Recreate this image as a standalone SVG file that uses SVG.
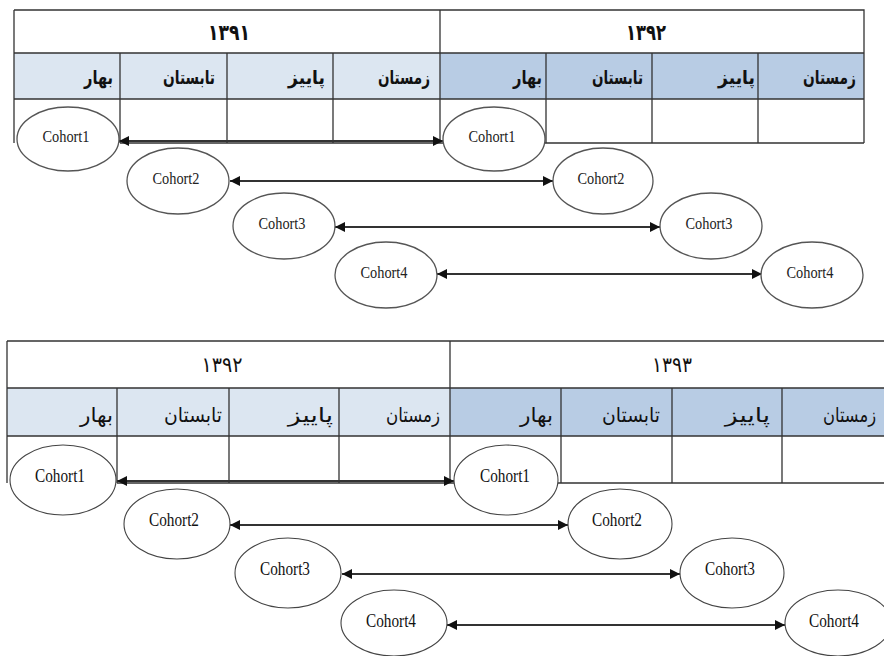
<svg xmlns="http://www.w3.org/2000/svg" width="884" height="656" viewBox="0 0 884 656">
<style>
.ln{stroke:#333;stroke-width:1.3;fill:none}
.c1{fill:#dce6f1}
.c2{fill:#b8cce4}
.yr{font-family:"DejaVu Sans",sans-serif;font-size:22px;font-weight:bold;fill:#111;text-anchor:middle}
.yr2{font-family:"DejaVu Sans",sans-serif;font-size:21px;fill:#111;text-anchor:middle}
.ss{font-family:"DejaVu Sans",sans-serif;font-size:19px;font-weight:bold;fill:#111;text-anchor:end}
.ss2{font-family:"DejaVu Sans",sans-serif;font-size:20px;fill:#111;text-anchor:end}
.el{fill:#fff;stroke:#555;stroke-width:1.3}
.el2{fill:#fff;stroke:#444;stroke-width:1.1}
.ct{font-family:"Liberation Serif",serif;font-size:17px;fill:#222;text-anchor:middle}
.ct2{font-family:"Liberation Serif",serif;font-size:18px;fill:#111;text-anchor:middle}
.ar{stroke:#333;stroke-width:2;fill:none;marker-start:url(#ah);marker-end:url(#ah)}
</style>
<defs>
<marker id="ah" viewBox="0 0 10 10" refX="10" refY="5" markerWidth="11" markerHeight="10" markerUnits="userSpaceOnUse" orient="auto-start-reverse">
<path d="M0,0 L10,5 L0,10 z" fill="#111"/>
</marker>
</defs>
<rect width="884" height="656" fill="#fff"/>

<g id="table-top">
<rect x="14" y="53" width="426" height="46" class="c1"/>
<rect x="440" y="53" width="424" height="46" class="c2"/>
<path class="ln" d="M14,10 H864 V143 M14,53 H864 M14,99 H864 M120,143 H864 M14,10 V143 M440,10 V143 M120,53 V143 M227,53 V143 M333,53 V143 M546,53 V143 M652,53 V143 M758,53 V143"/>
<text class="yr" x="229" y="40" textLength="42" lengthAdjust="spacingAndGlyphs">۱۳۹۱</text>
<text class="yr" x="646" y="40" textLength="40" lengthAdjust="spacingAndGlyphs">۱۳۹۲</text>
<text class="ss" x="113" y="84" textLength="29" lengthAdjust="spacingAndGlyphs">بهار</text>
<text class="ss" x="215" y="84" textLength="52" lengthAdjust="spacingAndGlyphs">تابستان</text>
<text class="ss" x="325" y="84" textLength="37" lengthAdjust="spacingAndGlyphs">پاییز</text>
<text class="ss" x="430" y="84" textLength="52" lengthAdjust="spacingAndGlyphs">زمستان</text>
<text class="ss" x="542" y="84" textLength="29" lengthAdjust="spacingAndGlyphs">بهار</text>
<text class="ss" x="643" y="84" textLength="51" lengthAdjust="spacingAndGlyphs">تابستان</text>
<text class="ss" x="755" y="84" textLength="37" lengthAdjust="spacingAndGlyphs">پاییز</text>
<text class="ss" x="856" y="84" textLength="53" lengthAdjust="spacingAndGlyphs">زمستان</text>
</g>

<g id="table-bottom">
<rect x="7" y="388" width="443" height="48" class="c1"/>
<rect x="450" y="388" width="440" height="48" class="c2"/>
<path class="ln" d="M7,341 H890 M7,388 H890 M7,436 H890 M117,483 H890 M7,341 V483 M450,341 V483 M117,388 V483 M229,388 V483 M339,388 V483 M561,388 V483 M672,388 V483 M782,388 V483"/>
<text class="yr2" x="222" y="372" textLength="41" lengthAdjust="spacingAndGlyphs">۱۳۹۲</text>
<text class="yr2" x="672" y="372" textLength="40" lengthAdjust="spacingAndGlyphs">۱۳۹۳</text>
<text class="ss2" x="113" y="422" textLength="33" lengthAdjust="spacingAndGlyphs">بهار</text>
<text class="ss2" x="222" y="422" textLength="58" lengthAdjust="spacingAndGlyphs">تابستان</text>
<text class="ss2" x="333" y="422" textLength="45" lengthAdjust="spacingAndGlyphs">پاییز</text>
<text class="ss2" x="440" y="422" textLength="54" lengthAdjust="spacingAndGlyphs">زمستان</text>
<text class="ss2" x="553" y="422" textLength="33" lengthAdjust="spacingAndGlyphs">بهار</text>
<text class="ss2" x="660" y="422" textLength="58" lengthAdjust="spacingAndGlyphs">تابستان</text>
<text class="ss2" x="770" y="422" textLength="45" lengthAdjust="spacingAndGlyphs">پاییز</text>
<text class="ss2" x="876" y="422" textLength="53" lengthAdjust="spacingAndGlyphs">زمستان</text>
</g>

<g id="connectors">
<line class="ar" x1="119" y1="141" x2="443" y2="141"/>
<line class="ar" x1="230" y1="181" x2="553" y2="181"/>
<line class="ar" x1="335" y1="227" x2="660" y2="227"/>
<line class="ar" x1="437" y1="274" x2="762" y2="274"/>
<line class="ar" x1="117" y1="481" x2="454" y2="481"/>
<line class="ar" x1="230" y1="525" x2="568" y2="525"/>
<line class="ar" x1="342" y1="574" x2="680" y2="574"/>
<line class="ar" x1="447" y1="625" x2="785" y2="625"/>
</g>

<g id="t-cohort1-a"><ellipse class="el" cx="68" cy="139" rx="51" ry="32"/><text class="ct" x="66" y="142" textLength="47" lengthAdjust="spacingAndGlyphs">Cohort1</text></g>
<g id="t-cohort2-a"><ellipse class="el" cx="178" cy="181" rx="51" ry="33"/><text class="ct" x="176" y="184" textLength="47" lengthAdjust="spacingAndGlyphs">Cohort2</text></g>
<g id="t-cohort3-a"><ellipse class="el" cx="284" cy="226" rx="51" ry="33"/><text class="ct" x="282" y="229" textLength="47" lengthAdjust="spacingAndGlyphs">Cohort3</text></g>
<g id="t-cohort4-a"><ellipse class="el" cx="386" cy="275" rx="51" ry="33"/><text class="ct" x="384" y="278" textLength="47" lengthAdjust="spacingAndGlyphs">Cohort4</text></g>
<g id="t-cohort1-b"><ellipse class="el" cx="494" cy="139" rx="51" ry="32"/><text class="ct" x="492" y="142" textLength="47" lengthAdjust="spacingAndGlyphs">Cohort1</text></g>
<g id="t-cohort2-b"><ellipse class="el" cx="603" cy="181" rx="50" ry="33"/><text class="ct" x="601" y="184" textLength="47" lengthAdjust="spacingAndGlyphs">Cohort2</text></g>
<g id="t-cohort3-b"><ellipse class="el" cx="711" cy="226" rx="51" ry="33"/><text class="ct" x="709" y="229" textLength="47" lengthAdjust="spacingAndGlyphs">Cohort3</text></g>
<g id="t-cohort4-b"><ellipse class="el" cx="812" cy="275" rx="51" ry="33"/><text class="ct" x="810" y="278" textLength="47" lengthAdjust="spacingAndGlyphs">Cohort4</text></g>

<g id="b-cohort1-a"><ellipse class="el2" cx="63" cy="480" rx="53" ry="35"/><text class="ct2" x="60" y="482" textLength="50" lengthAdjust="spacingAndGlyphs">Cohort1</text></g>
<g id="b-cohort2-a"><ellipse class="el2" cx="177" cy="524" rx="53" ry="35"/><text class="ct2" x="174" y="526" textLength="50" lengthAdjust="spacingAndGlyphs">Cohort2</text></g>
<g id="b-cohort3-a"><ellipse class="el2" cx="288" cy="573" rx="53" ry="35"/><text class="ct2" x="285" y="575" textLength="50" lengthAdjust="spacingAndGlyphs">Cohort3</text></g>
<g id="b-cohort4-a"><ellipse class="el2" cx="394" cy="623" rx="53" ry="33"/><text class="ct2" x="391" y="627" textLength="50" lengthAdjust="spacingAndGlyphs">Cohort4</text></g>
<g id="b-cohort1-b"><ellipse class="el2" cx="506" cy="480" rx="52" ry="35"/><text class="ct2" x="505" y="482" textLength="50" lengthAdjust="spacingAndGlyphs">Cohort1</text></g>
<g id="b-cohort2-b"><ellipse class="el2" cx="620" cy="524" rx="52" ry="35"/><text class="ct2" x="617" y="526" textLength="50" lengthAdjust="spacingAndGlyphs">Cohort2</text></g>
<g id="b-cohort3-b"><ellipse class="el2" cx="732" cy="573" rx="52" ry="35"/><text class="ct2" x="730" y="575" textLength="50" lengthAdjust="spacingAndGlyphs">Cohort3</text></g>
<g id="b-cohort4-b"><ellipse class="el2" cx="838" cy="623" rx="53" ry="33"/><text class="ct2" x="834" y="627" textLength="50" lengthAdjust="spacingAndGlyphs">Cohort4</text></g>
</svg>
